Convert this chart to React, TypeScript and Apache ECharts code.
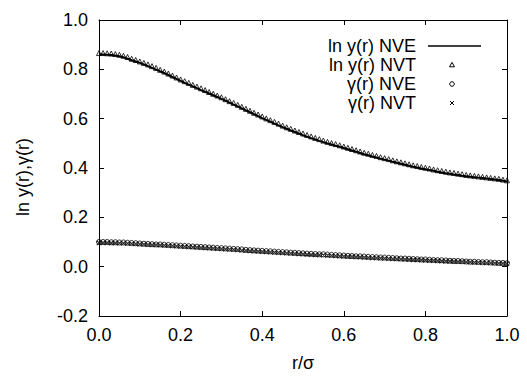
import React, { useEffect, useRef } from "react";
import * as echarts from "echarts";

const rValues = [
  0.0, 0.01, 0.02, 0.03, 0.04, 0.05, 0.06, 0.07, 0.08, 0.09,
  0.1, 0.11, 0.12, 0.13, 0.14, 0.15, 0.16, 0.17, 0.18, 0.19,
  0.2, 0.21, 0.22, 0.23, 0.24, 0.25, 0.26, 0.27, 0.28, 0.29,
  0.3, 0.31, 0.32, 0.33, 0.34, 0.35, 0.36, 0.37, 0.38, 0.39,
  0.4, 0.41, 0.42, 0.43, 0.44, 0.45, 0.46, 0.47, 0.48, 0.49,
  0.5, 0.51, 0.52, 0.53, 0.54, 0.55, 0.56, 0.57, 0.58, 0.59,
  0.6, 0.61, 0.62, 0.63, 0.64, 0.65, 0.66, 0.67, 0.68, 0.69,
  0.7, 0.71, 0.72, 0.73, 0.74, 0.75, 0.76, 0.77, 0.78, 0.79,
  0.8, 0.81, 0.82, 0.83, 0.84, 0.85, 0.86, 0.87, 0.88, 0.89,
  0.9, 0.91, 0.92, 0.93, 0.94, 0.95, 0.96, 0.97, 0.98, 0.99,
  1.0,
];

const lnYNVE = [
  0.860, 0.860, 0.859, 0.858, 0.856, 0.853, 0.849, 0.843, 0.837, 0.832,
  0.826, 0.820, 0.813, 0.806, 0.799, 0.792, 0.785, 0.777, 0.769, 0.761,
  0.753, 0.745, 0.738, 0.731, 0.724, 0.716, 0.709, 0.702, 0.695, 0.688,
  0.680, 0.673, 0.665, 0.657, 0.650, 0.642, 0.634, 0.626, 0.618, 0.610,
  0.602, 0.595, 0.588, 0.580, 0.573, 0.566, 0.559, 0.552, 0.546, 0.540,
  0.533, 0.527, 0.521, 0.516, 0.510, 0.505, 0.500, 0.495, 0.490, 0.486,
  0.481, 0.476, 0.471, 0.466, 0.461, 0.456, 0.452, 0.447, 0.443, 0.438,
  0.434, 0.430, 0.425, 0.421, 0.417, 0.413, 0.409, 0.405, 0.402, 0.398,
  0.395, 0.392, 0.389, 0.385, 0.382, 0.379, 0.377, 0.374, 0.372, 0.369,
  0.367, 0.365, 0.363, 0.361, 0.359, 0.357, 0.355, 0.353, 0.351, 0.348,
  0.345,
];

const lnYNVT = [
  0.866, 0.866, 0.865, 0.864, 0.862, 0.859, 0.855, 0.850, 0.843, 0.838,
  0.832, 0.826, 0.820, 0.813, 0.806, 0.798, 0.791, 0.783, 0.775, 0.767,
  0.759, 0.752, 0.745, 0.737, 0.730, 0.723, 0.716, 0.708, 0.701, 0.694,
  0.687, 0.679, 0.671, 0.664, 0.656, 0.648, 0.640, 0.632, 0.624, 0.617,
  0.609, 0.601, 0.594, 0.587, 0.580, 0.572, 0.565, 0.559, 0.552, 0.546,
  0.540, 0.534, 0.528, 0.522, 0.517, 0.511, 0.506, 0.501, 0.497, 0.492,
  0.487, 0.482, 0.477, 0.472, 0.467, 0.462, 0.458, 0.453, 0.449, 0.444,
  0.440, 0.436, 0.431, 0.427, 0.423, 0.419, 0.415, 0.411, 0.408, 0.404,
  0.401, 0.398, 0.394, 0.391, 0.388, 0.385, 0.382, 0.380, 0.377, 0.375,
  0.372, 0.370, 0.368, 0.366, 0.364, 0.362, 0.360, 0.358, 0.356, 0.353,
  0.350,
];

const gammaNVE = [
  0.100, 0.100, 0.100, 0.099, 0.099, 0.098, 0.098, 0.097, 0.096, 0.095,
  0.094, 0.093, 0.092, 0.091, 0.090, 0.090, 0.089, 0.088, 0.087, 0.086,
  0.085, 0.084, 0.083, 0.082, 0.081, 0.080, 0.079, 0.078, 0.077, 0.076,
  0.075, 0.074, 0.073, 0.072, 0.071, 0.070, 0.068, 0.067, 0.066, 0.065,
  0.064, 0.063, 0.062, 0.061, 0.060, 0.059, 0.058, 0.057, 0.056, 0.055,
  0.054, 0.053, 0.052, 0.051, 0.050, 0.050, 0.049, 0.048, 0.047, 0.046,
  0.045, 0.044, 0.043, 0.042, 0.042, 0.041, 0.040, 0.039, 0.038, 0.037,
  0.037, 0.036, 0.035, 0.034, 0.033, 0.033, 0.032, 0.031, 0.030, 0.029,
  0.029, 0.028, 0.027, 0.026, 0.026, 0.025, 0.024, 0.023, 0.023, 0.022,
  0.021, 0.020, 0.020, 0.019, 0.018, 0.018, 0.017, 0.016, 0.015, 0.015,
  0.014,
];

const gammaNVT = [
  0.097, 0.097, 0.097, 0.096, 0.096, 0.095, 0.095, 0.094, 0.093, 0.092,
  0.091, 0.090, 0.089, 0.088, 0.088, 0.087, 0.086, 0.085, 0.084, 0.083,
  0.082, 0.081, 0.080, 0.079, 0.078, 0.077, 0.076, 0.075, 0.074, 0.073,
  0.072, 0.071, 0.070, 0.069, 0.068, 0.066, 0.065, 0.064, 0.063, 0.062,
  0.061, 0.060, 0.059, 0.058, 0.057, 0.056, 0.055, 0.054, 0.053, 0.052,
  0.051, 0.050, 0.049, 0.048, 0.048, 0.047, 0.046, 0.045, 0.044, 0.043,
  0.042, 0.041, 0.041, 0.040, 0.039, 0.038, 0.037, 0.036, 0.036, 0.035,
  0.034, 0.033, 0.032, 0.032, 0.031, 0.030, 0.029, 0.028, 0.028, 0.027,
  0.026, 0.025, 0.025, 0.024, 0.023, 0.022, 0.022, 0.021, 0.020, 0.020,
  0.019, 0.018, 0.017, 0.017, 0.016, 0.015, 0.015, 0.014, 0.013, 0.013,
  0.012,
];

const seriesNames = ["ln y(r) NVE", "ln y(r) NVT", "γ(r) NVE", "γ(r) NVT"];
const xTitle = "r/σ";
const yTitle = "ln y(r),γ(r)";

const FONT = "'Liberation Sans', Arial, Helvetica, sans-serif";
const CROSS = "path://M0,0L10,10M10,0L0,10";

export default function App() {
  const ref = useRef<HTMLDivElement>(null);

  useEffect(() => {
    if (!ref.current) return;
    const chart = echarts.init(ref.current, null, { renderer: "svg" });
    const pairs = (ys: number[]) => rValues.map((r, i) => [r, ys[i]]);

    const axisCommon = {
      type: "value" as const,
      axisLine: { show: true, onZero: false, lineStyle: { color: "#000", width: 1 } },
      axisTick: { show: true, inside: true, length: 5, lineStyle: { color: "#000", width: 1 } },
      splitLine: { show: false },
    };
    const labelStyle = { color: "#000", fontSize: 18, fontFamily: FONT };

    const legendX = 416;
    const rows = [46, 65, 84, 103];
    const symX = 452;

    chart.setOption({
      animation: false,
      backgroundColor: "#fff",
      textStyle: { fontFamily: FONT },
      grid: { left: 99, right: 20, top: 20, bottom: 57, containLabel: false },
      xAxis: [
        {
          ...axisCommon,
          position: "bottom",
          min: 0,
          max: 1,
          interval: 0.2,
          axisLabel: { ...labelStyle, margin: 10, formatter: (v: number) => v.toFixed(1) },
          name: xTitle,
          nameLocation: "middle",
          nameGap: 38,
          nameTextStyle: { ...labelStyle },
        },
        {
          ...axisCommon,
          position: "top",
          min: 0,
          max: 1,
          interval: 0.2,
          axisLabel: { show: false },
        },
      ],
      yAxis: [
        {
          ...axisCommon,
          position: "left",
          min: -0.2,
          max: 1.0,
          interval: 0.2,
          axisLabel: { ...labelStyle, margin: 11, formatter: (v: number) => v.toFixed(1) },
        },
        {
          ...axisCommon,
          position: "right",
          min: -0.2,
          max: 1.0,
          interval: 0.2,
          axisLabel: { show: false },
        },
      ],
      series: [
        {
          name: seriesNames[0],
          type: "line",
          data: pairs(lnYNVE),
          showSymbol: false,
          smooth: false,
          lineStyle: { color: "#000", width: 2 },
          z: 2,
        },
        {
          name: seriesNames[1],
          type: "scatter",
          data: pairs(lnYNVT),
          symbol: "triangle",
          symbolSize: 5,
          itemStyle: { color: "transparent", borderColor: "#000", borderWidth: 1 },
          z: 3,
        },
        {
          name: seriesNames[2],
          type: "scatter",
          data: pairs(gammaNVE),
          symbol: "circle",
          symbolSize: 5,
          itemStyle: { color: "transparent", borderColor: "#000", borderWidth: 1 },
          z: 4,
        },
        {
          name: seriesNames[3],
          type: "scatter",
          data: pairs(gammaNVT),
          symbol: CROSS,
          symbolSize: 4.5,
          itemStyle: { color: "transparent", borderColor: "#000", borderWidth: 1.1 },
          z: 5,
        },
      ],
      graphic: [
        {
          type: "text",
          x: 23,
          y: 177,
          rotation: Math.PI / 2,
          style: {
            text: yTitle,
            fill: "#000",
            fontSize: 18,
            fontFamily: FONT,
            align: "center",
            verticalAlign: "middle",
          },
        },
        ...seriesNames.map((n, i) => ({
          type: "text",
          x: legendX,
          y: rows[i],
          style: {
            text: n,
            fill: "#000",
            fontSize: 18,
            fontFamily: FONT,
            align: "right",
            verticalAlign: "middle",
          },
        })),
        {
          type: "line",
          shape: { x1: 428, y1: rows[0], x2: 481, y2: rows[0] },
          style: { stroke: "#000", lineWidth: 1.6 },
        },
        {
          type: "polygon",
          shape: {
            points: [
              [symX, rows[1] - 2.6],
              [symX + 2.5, rows[1] + 1.8],
              [symX - 2.5, rows[1] + 1.8],
            ],
          },
          style: { fill: "none", stroke: "#000", lineWidth: 1 },
        },
        {
          type: "circle",
          shape: { cx: symX, cy: rows[2], r: 2.3 },
          style: { fill: "none", stroke: "#000", lineWidth: 1 },
        },
        {
          type: "line",
          shape: { x1: symX - 2, y1: rows[3] - 2, x2: symX + 2, y2: rows[3] + 2 },
          style: { stroke: "#000", lineWidth: 1 },
        },
        {
          type: "line",
          shape: { x1: symX - 2, y1: rows[3] + 2, x2: symX + 2, y2: rows[3] - 2 },
          style: { stroke: "#000", lineWidth: 1 },
        },
      ],
    });
    return () => chart.dispose();
  }, []);

  return (
    <div
      ref={ref}
      style={{ position: "absolute", left: 0, top: 0, width: 527, height: 377 }}
    />
  );
}
